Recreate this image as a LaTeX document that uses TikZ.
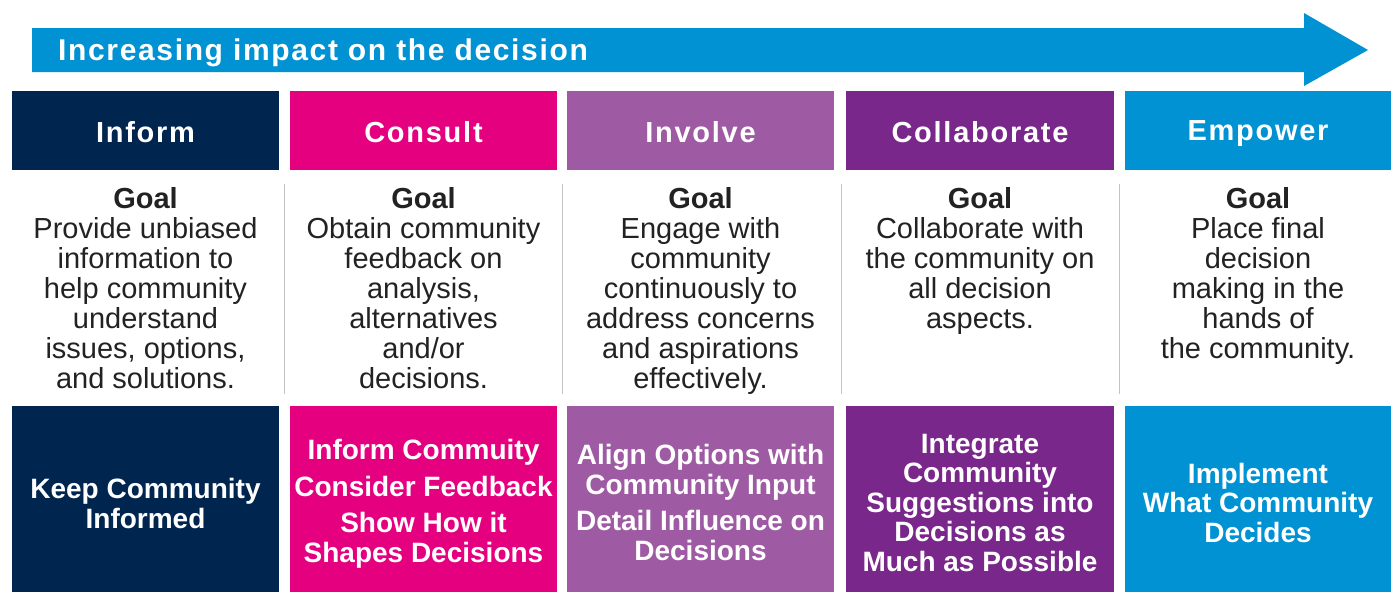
\documentclass[tikz,border=0pt]{standalone}
\usepackage{fontspec}
\setmainfont{Liberation Sans}
\newfontfamily\hdfont{Liberation Sans}[LetterSpace=6]
\newfontfamily\arfont{Liberation Sans}[LetterSpace=5.5]
\definecolor{cnavy}{HTML}{00254F}
\definecolor{cmag}{HTML}{E4007F}
\definecolor{cinv}{HTML}{9E5BA3}
\definecolor{ccol}{HTML}{79278A}
\definecolor{cblue}{HTML}{0092D2}
\definecolor{ctext}{HTML}{222222}
\definecolor{csep}{HTML}{C4C4C4}
\tikzset{
  hdtext/.style={text=white, font=\hdfont\bfseries\fontsize{29}{30}\selectfont, anchor=base, inner sep=0pt},
  goaltext/.style={text=ctext, font=\fontsize{29}{30}\selectfont, align=center, anchor=base, inner sep=0pt},
  bottext/.style={text=white, font=\bfseries\fontsize{28}{29.5}\selectfont, align=center, anchor=base, inner sep=0pt},
  sepline/.style={draw=csep, line width=1pt},
}
\begin{document}
\begin{tikzpicture}[x=1pt,y=-1pt]
\useasboundingbox (0,0) rectangle (1393,592);
% arrow
\fill[cblue] (32,28) -- (1304,28) -- (1304,13) -- (1368,50) -- (1304,86) -- (1304,72) -- (32,72) -- cycle;
\node[text=white, font=\arfont\bfseries\fontsize{30}{30}\selectfont, anchor=base west, inner sep=0pt] (arrowlbl) at (58,60) {Increasing impact on the decision};
% header and bottom boxes
\foreach \i/\xa/\xb/\c in {1/12/279/cnavy, 2/290/557/cmag, 3/567/834/cinv, 4/846/1114/ccol, 5/1125/1391/cblue}{
  \fill[\c] (\xa,91) rectangle (\xb,170);
  \fill[\c] (\xa,406) rectangle (\xb,592);
}
\node[hdtext] (h1) at (145.5,142) {Inform};
\node[hdtext] (h2) at (423.5,142) {Consult};
\node[hdtext] (h3) at (700.5,142) {Involve};
\node[hdtext] (h4) at (980,142) {Collaborate};
\node[hdtext] (h5) at (1258,140) {Empower};
% separators
\foreach \x in {284,562,841,1119}{
  \draw[sepline] (\x,184) -- (\x,394);
}
% goal texts (base anchor = last line baseline)
\node[goaltext] (g1) at (145.5,388) {\textbf{Goal}\\Provide unbiased\\information to\\help community\\understand\\issues, options,\\and solutions.};
\node[goaltext] (g2) at (423.5,388) {\textbf{Goal}\\Obtain community\\feedback on\\analysis,\\alternatives\\and/or\\decisions.};
\node[goaltext] (g3) at (700.5,388) {\textbf{Goal}\\Engage with\\community\\continuously to\\address concerns\\and aspirations\\effectively.};
\node[goaltext] (g4) at (980,328) {\textbf{Goal}\\Collaborate with\\the community on\\all decision\\aspects.};
\node[goaltext] (g5) at (1258,358) {\textbf{Goal}\\Place final\\decision\\making in the\\hands of\\the community.};
% bottom texts
\node[bottext] (b1) at (145.5,528) {Keep Community\\Informed};
\node[bottext] (b2) at (423.5,562) {Inform Commuity\\[7pt]Consider Feedback\\[7pt]Show How it\\Shapes Decisions};
\node[bottext] (b3) at (700.5,560) {Align Options with\\Community Input\\[7pt]Detail Influence on\\Decisions};
\node[bottext] (b4) at (980,571) {Integrate\\Community\\Suggestions into\\Decisions as\\Much as Possible};
\node[bottext] (b5) at (1258,542) {Implement\\What Community\\Decides};
\end{tikzpicture}
\end{document}
